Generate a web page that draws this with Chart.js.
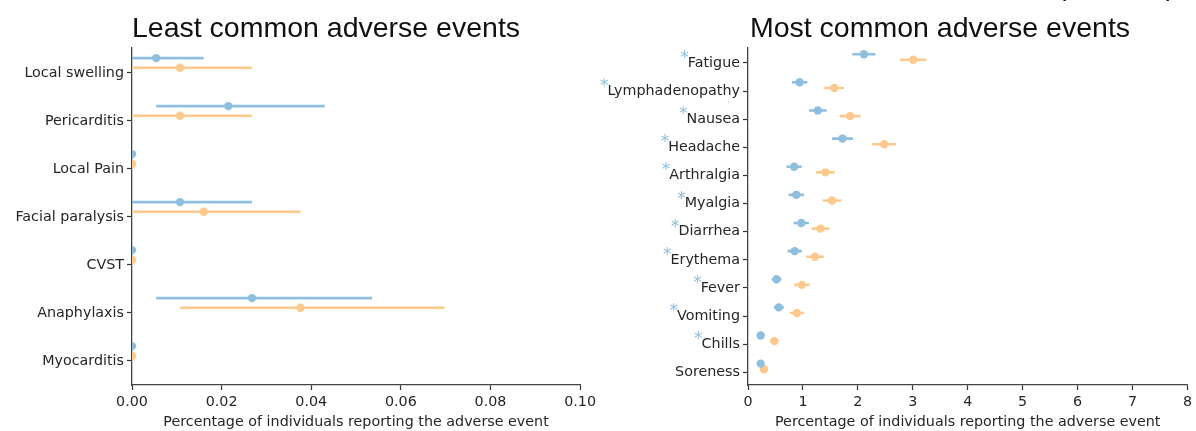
<!DOCTYPE html>
<html>
<head>
<meta charset="utf-8">
<script src="https://cdn.jsdelivr.net/npm/chart.js@4.4.1/dist/chart.umd.min.js"></script>
<style>
    body { margin: 0; background: #fff; }
    #wrap { position: relative; width: 1196px; height: 431px; }
    canvas { position: absolute; top: 0; }
</style>
</head>
<body>
<div id="wrap">
    <canvas id="leastchart" width="600" height="431" style="left:0"></canvas>
    <canvas id="mostchart" width="596" height="431" style="left:600px"></canvas>
</div>
<script>
// least common events (left panel)
const leastLabels = ['Local swelling', 'Pericarditis', 'Local Pain', 'Facial paralysis', 'CVST', 'Anaphylaxis', 'Myocarditis'];
const leastBlue = [0.0054, 0.0215, 0, 0.0107, 0, 0.0268, 0];
const leastBlueLo = [0, 0.0054, 0, 0, 0, 0.0054, 0];
const leastBlueHi = [0.016, 0.043, 0, 0.0268, 0, 0.0536, 0];
const leastOrange = [0.0107, 0.0107, 0, 0.016, 0, 0.0376, 0];
const leastOrangeLo = [0, 0, 0, 0, 0, 0.0107, 0];
const leastOrangeHi = [0.0268, 0.0268, 0, 0.0376, 0, 0.0697, 0];
const leastTicks = [0, 0.02, 0.04, 0.06, 0.08, 0.10];

// most common events (right panel)
const mostLabels = ['Fatigue', 'Lymphadenopathy', 'Nausea', 'Headache', 'Arthralgia', 'Myalgia',
    'Diarrhea', 'Erythema', 'Fever', 'Vomiting', 'Chills', 'Soreness'];
const mostStar = [true, true, true, true, true, true, true, true, true, true, true, false];
const mostBlue = [2.11, 0.94, 1.27, 1.72, 0.84, 0.88, 0.97, 0.85, 0.52, 0.56, 0.23, 0.23];
const mostBlueErr = [0.21, 0.14, 0.16, 0.19, 0.14, 0.14, 0.14, 0.13, 0.09, 0.09, 0.06, 0.06];
const mostOrange = [3.01, 1.57, 1.86, 2.48, 1.41, 1.53, 1.32, 1.22, 0.98, 0.89, 0.48, 0.29];
const mostOrangeErr = [0.24, 0.18, 0.19, 0.22, 0.17, 0.17, 0.16, 0.16, 0.14, 0.13, 0.08, 0.06];
const mostTicks = [0, 1, 2, 3, 4, 5, 6, 7, 8];

const blueColor = 'rgb(143, 190, 222)';
const orangeColor = 'rgb(254, 201, 140)';
const blueOffset = -0.31;
const orangeOffset = -0.11;
const axisTitle = 'Percentage of individuals reporting the adverse event';
const tickFont = { family: '"DejaVu Sans"', size: 14.3 };

function errorLine(lo, hi, off) {
    var pts = [];
    lo.forEach(function (v, i) {
        // the {x:null} point breaks the line between categories
        pts.push({ x: v, y: i + off }, { x: hi[i], y: i + off }, { x: null, y: null });
    });
    return pts;
}

function points(vals, off) {
    return vals.map(function (v, i) {
        return { x: v, y: i + off };
    });
}

function lineSet(data, color) {
    return {
        data: data, showLine: true, borderColor: color, borderWidth: 2.6,
        pointRadius: 0, spanGaps: false, clip: 0, borderCapStyle: 'butt'
    };
}

function dotSet(data, color) {
    return {
        data: data, showLine: false, backgroundColor: color, borderColor: color,
        pointRadius: 4.2, borderWidth: 0, clip: 0
    };
}

function titlePlugin(text, cx) {
    return {
        id: 'paneltitle',
        afterDraw: function (chart) {
            var ctx = chart.ctx;
            ctx.save();
            ctx.font = '28.5px "Liberation Sans", Arial, sans-serif';
            ctx.fillStyle = '#111';
            ctx.textAlign = 'center';
            ctx.textBaseline = 'alphabetic';
            ctx.fillText(text, cx, 37);
            ctx.restore();
        }
    };
}

function axes(labels, ymin, ymax, xmin, xmax, xticks, fmt, yWidth) {
    return {
        x: {
            type: 'linear', min: xmin, max: xmax,
            afterBuildTicks: function (s) { s.ticks = xticks.map(function (v) { return { value: v }; }); },
            afterFit: function (s) { s.height = 46; },
            ticks: {
                callback: fmt, color: '#262626', padding: 4,
                font: tickFont, maxRotation: 0
            },
            grid: { drawOnChartArea: false, drawTicks: true, tickLength: 5, tickColor: '#333', tickWidth: 1.2 },
            border: { display: true, color: '#444', width: 1.3 },
            title: {
                display: true, text: axisTitle, color: '#262626',
                font: { family: '"DejaVu Sans"', size: 14.3 }, padding: { top: 1, bottom: 0 }
            }
        },
        y: {
            type: 'linear', reverse: true, min: ymin, max: ymax,
            afterBuildTicks: function (s) { s.ticks = labels.map(function (l, i) { return { value: i }; }); },
            afterFit: function (s) { s.width = yWidth; },
            ticks: {
                callback: function (v) { return labels[v]; }, color: '#262626', padding: 3,
                font: tickFont
            },
            grid: { drawOnChartArea: false, drawTicks: true, tickLength: 5, tickColor: '#333', tickWidth: 1.2 },
            border: { display: true, color: '#444', width: 1.3 }
        }
    };
}

const leastchart = document.getElementById('leastchart');

new Chart(leastchart, {
    type: 'scatter',
    data: {
        datasets: [
            lineSet(errorLine(leastBlueLo, leastBlueHi, blueOffset), blueColor),
            lineSet(errorLine(leastOrangeLo, leastOrangeHi, orangeOffset), orangeColor),
            dotSet(points(leastBlue, blueOffset), blueColor),
            dotSet(points(leastOrange, orangeOffset), orangeColor)
        ]
    },
    options: {
        responsive: false, animation: false,
        layout: { padding: { top: 48, right: 16, left: 0, bottom: 0 } },
        plugins: { legend: { display: false }, tooltip: { enabled: false } },
        scales: axes(leastLabels, -0.52, 6.5, 0, 0.1, leastTicks,
            function (v) { return v.toFixed(2); }, 132)
    },
    plugins: [titlePlugin('Least common adverse events', 326)]
});

const mostchart = document.getElementById('mostchart');

// blue asterisks in front of the labels
const starPlugin = {
    id: 'stars',
    afterDraw: function (chart) {
        var ys = chart.scales.y;
        var ctx = chart.ctx;
        ctx.save();
        mostLabels.forEach(function (lab, i) {
            if (!mostStar[i]) return;
            ctx.font = '14.3px "DejaVu Sans"';
            var w = ctx.measureText(lab).width;
            var right = ys.right - 5 - 3;
            var py = ys.getPixelForValue(i);
            ctx.font = '17px "DejaVu Sans"';
            ctx.fillStyle = blueColor;
            ctx.textAlign = 'right';
            ctx.textBaseline = 'alphabetic';
            ctx.fillText('*', right - w + 1, py);
        });
        // cut-off heading above the panel
        ctx.font = '28px "Liberation Sans", Arial, sans-serif';
        ctx.fillStyle = '#111';
        ctx.textAlign = 'left';
        ctx.fillText('(', 457, -5);
        ctx.fillText(')', 566, -5);
        ctx.restore();
    }
};

new Chart(mostchart, {
    type: 'scatter',
    data: {
        datasets: [
            lineSet(errorLine(mostBlue.map(function (v, i) { return v - mostBlueErr[i]; }),
                mostBlue.map(function (v, i) { return v + mostBlueErr[i]; }), blueOffset), blueColor),
            lineSet(errorLine(mostOrange.map(function (v, i) { return v - mostOrangeErr[i]; }),
                mostOrange.map(function (v, i) { return v + mostOrangeErr[i]; }), orangeOffset), orangeColor),
            dotSet(points(mostBlue, blueOffset), blueColor),
            dotSet(points(mostOrange, orangeOffset), orangeColor)
        ]
    },
    options: {
        responsive: false, animation: false,
        layout: { padding: { top: 48, right: 7, left: 0, bottom: 0 } },
        plugins: { legend: { display: false }, tooltip: { enabled: false } },
        scales: axes(mostLabels, -0.53, 11.45, 0, 8, mostTicks,
            function (v) { return v; }, 148)
    },
    plugins: [titlePlugin('Most common adverse events', 340), starPlugin]
});
</script>
</body>
</html>
